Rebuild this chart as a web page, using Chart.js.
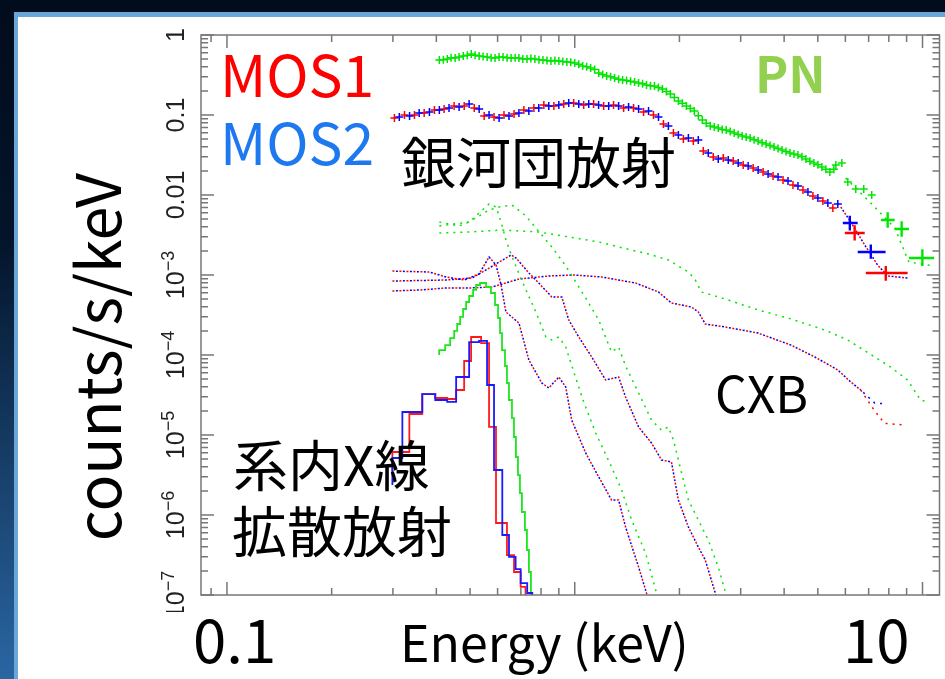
<!DOCTYPE html>
<html>
<head>
<meta charset="utf-8">
<script src="https://cdn.jsdelivr.net/npm/chart.js@4.4.0/dist/chart.umd.min.js"></script>
<style>
  html, body { margin: 0; padding: 0; background: #020f20; }
  #wrap { width: 945px; height: 679px; position: relative; }
</style>
</head>
<body>
<div id="wrap"><canvas id="spec" width="945" height="679"></canvas></div>
<script>
// --- observed spectra (keV, counts/s/keV) ---
const mos1E = [0.303, 0.324, 0.346, 0.369, 0.395, 0.421, 0.450, 0.481, 0.514, 0.549, 0.586, 0.626, 0.669, 0.714, 0.763, 0.815, 0.871, 0.930, 0.993, 1.061, 1.133, 1.211, 1.293, 1.382, 1.476, 1.577, 1.684, 1.799, 1.922, 2.053, 2.193, 2.342, 2.502, 2.673, 2.855, 3.050, 3.258, 3.480, 3.717, 3.971, 4.242, 4.531, 4.840, 5.170, 5.523];
const mos1V = [0.0917, 0.100, 0.100, 0.106, 0.1155, 0.119, 0.130, 0.130, 0.122, 0.0972, 0.0944, 0.100, 0.103, 0.1155, 0.122, 0.133, 0.130, 0.137, 0.141, 0.133, 0.137, 0.130, 0.133, 0.122, 0.122, 0.109, 0.100, 0.0772, 0.0596, 0.0501, 0.0473, 0.0355, 0.0299, 0.0290, 0.0266, 0.0237, 0.0218, 0.0194, 0.0173, 0.0154, 0.0133, 0.01155, 0.00972, 0.00841, 0.00688];
const mos2E = [0.313, 0.335, 0.357, 0.382, 0.408, 0.435, 0.465, 0.497, 0.531, 0.567, 0.606, 0.647, 0.691, 0.738, 0.788, 0.842, 0.900, 0.961, 1.027, 1.097, 1.171, 1.252, 1.337, 1.428, 1.526, 1.630, 1.741, 1.859, 1.986, 2.122, 2.266, 2.421, 2.586, 2.763, 2.951, 3.152, 3.367, 3.597, 3.842, 4.104, 4.384, 4.683, 5.002, 5.343, 5.707];
const mos2V = [0.0944, 0.0972, 0.106, 0.109, 0.1155, 0.122, 0.126, 0.137, 0.119, 0.100, 0.0917, 0.0972, 0.106, 0.112, 0.122, 0.130, 0.133, 0.141, 0.137, 0.137, 0.133, 0.130, 0.130, 0.126, 0.119, 0.112, 0.0944, 0.0729, 0.0562, 0.0516, 0.0487, 0.0335, 0.0282, 0.0273, 0.0251, 0.0230, 0.0205, 0.0183, 0.0168, 0.0150, 0.0130, 0.0109, 0.00917, 0.00794, 0.00772];
const pnE = [0.408, 0.430, 0.453, 0.478, 0.504, 0.531, 0.560, 0.590, 0.622, 0.656, 0.691, 0.729, 0.768, 0.810, 0.854, 0.900, 0.949, 1.000, 1.054, 1.111, 1.172, 1.235, 1.302, 1.373, 1.447, 1.526, 1.608, 1.695, 1.787, 1.884, 1.986, 2.094, 2.207, 2.327, 2.453, 2.586, 2.726, 2.874, 3.030, 3.194, 3.367, 3.549, 3.742, 3.945, 4.158, 4.384, 4.622, 4.872, 5.136, 5.415, 5.633, 5.862, 6.098, 6.427, 6.776, 7.144];
const pnV = [0.487, 0.501, 0.516, 0.546, 0.579, 0.546, 0.531, 0.516, 0.531, 0.516, 0.516, 0.501, 0.501, 0.487, 0.473, 0.473, 0.460, 0.447, 0.410, 0.387, 0.335, 0.307, 0.290, 0.274, 0.265, 0.251, 0.237, 0.231, 0.211, 0.183, 0.150, 0.130, 0.112, 0.0866, 0.0729, 0.0688, 0.0649, 0.0596, 0.0546, 0.0516, 0.0473, 0.0434, 0.0398, 0.0365, 0.0335, 0.0316, 0.0282, 0.0251, 0.0224, 0.0194, 0.0237, 0.0251, 0.0145, 0.0119, 0.0119, 0.0100];
// PN bins lying between the ones above
const pnE2 = [0.419, 0.441, 0.465, 0.491, 0.517, 0.545, 0.575, 0.606, 0.639, 0.674, 0.709, 0.748, 0.789, 0.832, 0.877, 0.924, 0.974, 1.027, 1.082, 1.141, 1.203, 1.268, 1.337, 1.410, 1.486, 1.567, 1.651, 1.740, 1.835, 1.934, 2.039, 2.150, 2.266, 2.389, 2.519, 2.655, 2.799, 2.951, 3.111, 3.279, 3.457, 3.644, 3.842, 4.050, 4.269, 4.501, 4.745, 5.002, 5.273, 5.560];
const pnV2 = [0.49, 0.52, 0.53, 0.56, 0.56, 0.54, 0.52, 0.53, 0.52, 0.52, 0.50, 0.51, 0.49, 0.48, 0.48, 0.465, 0.455, 0.43, 0.40, 0.37, 0.32, 0.30, 0.28, 0.27, 0.258, 0.245, 0.232, 0.221, 0.196, 0.166, 0.14, 0.121, 0.098, 0.079, 0.071, 0.066, 0.062, 0.057, 0.053, 0.049, 0.045, 0.0415, 0.038, 0.035, 0.0325, 0.030, 0.0265, 0.0238, 0.021, 0.021];

// wide high-energy bins: centre, bin edges, value, error range
const mos1WideE = [6.38, 7.84], mos1WideLo = [5.98, 6.87], mos1WideHi = [6.82, 9.06];
const mos1WideV = [0.00335, 0.00106], mos1WideVlo = [0.0027, 0.00085], mos1WideVhi = [0.0042, 0.0013];
const mos2WideE = [6.18, 7.10], mos2WideLo = [5.90, 6.51], mos2WideHi = [6.51, 7.83];
const mos2WideV = [0.00447, 0.00194], mos2WideVlo = [0.0036, 0.0016], mos2WideVhi = [0.0055, 0.0024];
const pnWideE = [7.94, 8.71, 9.99], pnWideLo = [7.59, 8.32, 9.14], pnWideHi = [8.32, 9.14, 10.8];
const pnWideV = [0.00487, 0.00376, 0.00163], pnWideVlo = [0.0039, 0.0030, 0.0013], pnWideVhi = [0.0061, 0.0047, 0.0021];

// --- model components ---
const pnCxbE = [0.408, 0.497, 0.618, 0.788, 0.961, 1.172, 1.337, 1.629, 1.859, 2.122, 2.222, 2.312, 2.421, 2.763, 3.367, 4.105, 5.239, 6.098, 7.287, 8.096, 9.057, 9.868, 10.33];
const pnCxbV = [0.00335, 0.00345, 0.00365, 0.00345, 0.00299, 0.00259, 0.00224, 0.00183, 0.00154, 0.00109, 0.000866, 0.000613, 0.000579, 0.000487, 0.000365, 0.000290, 0.000205, 0.000154, 0.0000944, 0.0000708, 0.0000487, 0.0000274, 0.0000259];
const pnHotE = [0.408, 0.497, 0.567, 0.606, 0.660, 0.724, 0.773, 0.859, 0.942, 1.075, 1.172, 1.276, 1.337, 1.400, 1.526, 1.662, 1.776, 1.859, 1.922, 2.122, 2.266, 2.421, 2.586, 2.726, 2.80];
const pnHotV = [0.0041, 0.0046, 0.00649, 0.00708, 0.0075, 0.00546, 0.00387, 0.00224, 0.0013, 0.000516, 0.000274, 0.000109, 0.000126, 0.0000729, 0.0000335, 0.0000154, 0.0000115, 0.0000126, 0.00000866, 0.00000154, 8.66e-7, 4.87e-7, 2.24e-7, 1.0e-7, 6.5e-8];
const pnCoolE = [0.408, 0.465, 0.497, 0.531, 0.567, 0.594, 0.614, 0.634, 0.656, 0.678, 0.724, 0.773, 0.826, 0.859, 0.900, 0.942, 1.007, 1.061, 1.149, 1.276, 1.364, 1.457, 1.598, 1.718, 1.776];
const pnCoolV = [0.0046, 0.0041, 0.0046, 0.00596, 0.00772, 0.00708, 0.0046, 0.00274, 0.00183, 0.00126, 0.00065, 0.000345, 0.000168, 0.000154, 0.000168, 0.000126, 0.0000516, 0.0000259, 0.0000106, 0.00000398, 0.00000205, 8.66e-7, 3.35e-7, 1.06e-7, 7.3e-8];
const pnTotE = [6.01, 6.73, 7.43, 8.32, 9.14, 10.82];
const pnTotV = [0.0163, 0.0100, 0.00649, 0.00387, 0.00145, 0.0013];

const mosCxbE = [0.299, 0.358, 0.427, 0.497, 0.578, 0.691, 0.842, 0.993, 1.195, 1.496, 1.741, 1.897, 2.164, 2.266, 2.373, 2.708, 3.367, 4.186, 4.903, 5.706, 6.218, 6.641];
const mosCxbV = [0.000631, 0.00065, 0.000688, 0.000688, 0.000708, 0.000891, 0.000972, 0.00100, 0.000944, 0.000794, 0.000613, 0.000447, 0.000398, 0.000345, 0.000244, 0.000224, 0.000188, 0.000133, 0.0000944, 0.000065, 0.000046, 0.0000365];
const mos2CxbTailE = [6.641, 7.287, 7.83], mos2CxbTailV = [0.0000365, 0.0000251, 0.0000245];
const mos1CxbTailE = [6.641, 7.287, 7.78, 8.94], mos1CxbTailV = [0.0000365, 0.0000200, 0.0000140, 0.0000133];
const mosCoolE = [0.299, 0.382, 0.427, 0.481, 0.531, 0.567, 0.594, 0.614, 0.634, 0.691, 0.738, 0.804, 0.842, 0.900, 0.942, 0.980, 1.075, 1.172, 1.276, 1.337, 1.400, 1.526, 1.608, 1.651];
const mosCoolV = [0.00112, 0.00109, 0.000944, 0.000866, 0.00103, 0.00168, 0.00133, 0.00075, 0.000345, 0.000251, 0.0000866, 0.0000447, 0.0000387, 0.0000531, 0.0000398, 0.0000154, 0.00000596, 0.00000299, 0.00000154, 0.00000154, 7.08e-7, 2.24e-7, 1.06e-7, 7.5e-8];
const mosHotE = [0.299, 0.427, 0.507, 0.567, 0.606, 0.656, 0.678, 0.738, 0.788, 0.859, 0.918, 0.961, 1.027, 1.119, 1.227, 1.337, 1.400, 1.526, 1.662, 1.776, 1.897, 1.986, 2.122, 2.266, 2.373, 2.535, 2.586];
const mosHotV = [0.000841, 0.000866, 0.000917, 0.00122, 0.00145, 0.00178, 0.00163, 0.00106, 0.000794, 0.000531, 0.000531, 0.000274, 0.000168, 0.0000944, 0.0000487, 0.0000531, 0.0000299, 0.0000126, 0.00000794, 0.00000487, 0.0000046, 0.00000154, 7.08e-7, 3.98e-7, 2.74e-7, 1.06e-7, 7.5e-8];
const mosTotE = [5.82, 6.218, 6.82, 7.43, 7.94, 9.06];
const mosTotV = [0.00708, 0.0046, 0.00237, 0.00133, 0.000972, 0.000917];

// galactic diffuse emission (binned, left bin edges)
const mos1GdeE = [0.299, 0.3345, 0.3644, 0.3971, 0.4298, 0.456, 0.4808, 0.5035, 0.5379, 0.567, 0.5937, 0.6384, 0.669, 0.699, 0.722, 0.747];
const mos1GdeV = [3.07e-6, 6.13e-6, 1.83e-5, 3.25e-5, 2.9e-5, 2.82e-5, 3.65e-5, 8.41e-5, 1.68e-4, 1.41e-4, 1.26e-5, 7.94e-7, 3.16e-7, 1.94e-7, 1.26e-7, 4.87e-8];
const mos2GdeE = [0.299, 0.3194, 0.3644, 0.3971, 0.4298, 0.456, 0.497, 0.5307, 0.5596, 0.586, 0.619, 0.647, 0.676, 0.699, 0.730, 0.755, 0.788];
const mos2GdeV = [2.37e-6, 5.16e-6, 1.94e-5, 3.25e-5, 2.74e-5, 2.59e-5, 5.31e-5, 1.45e-4, 1.5e-4, 4.22e-5, 3.65e-6, 5.62e-7, 2.99e-7, 2.11e-7, 1.41e-7, 1.06e-7, 4.87e-8];
const pnGdeE = [0.4076, 0.4241, 0.4383, 0.4501, 0.4591, 0.4683, 0.4776, 0.4872, 0.497, 0.5102, 0.5204, 0.5344, 0.5559, 0.5743, 0.5899, 0.6017, 0.6097, 0.6178, 0.6301, 0.6384, 0.6469, 0.6599, 0.6687, 0.6775, 0.6866, 0.6957, 0.7049, 0.719, 0.7286, 0.7383, 0.7481, 0.7581];
const pnGdeV = [1.0e-4, 1.15e-4, 1.33e-4, 1.63e-4, 2.0e-4, 2.44e-4, 2.99e-4, 3.76e-4, 4.6e-4, 5.46e-4, 6.5e-4, 7.5e-4, 7.94e-4, 7.08e-4, 5.96e-4, 4.22e-4, 2.9e-4, 1.88e-4, 1.15e-4, 7.29e-5, 4.47e-5, 2.74e-5, 1.63e-5, 9.44e-6, 5.31e-6, 3.16e-6, 1.88e-6, 1.09e-6, 6.49e-7, 3.65e-7, 1.94e-7, 8.66e-8];

// axis tick labels
const yTickVals = [1, 0.1, 0.01, 1e-3, 1e-4, 1e-5, 1e-6, 1e-7];
const yTickText = ['1', '0.1', '0.01', '10|−3', '10|−4', '10|−5', '10|−6', '10|−7'];

const RED = '#ff0000', BLUE = '#0000ff', GREEN = '#00e600';

function pts(es, vs) {
  return es.map((e, i) => ({ x: e, y: vs[i] }));
}

// wide bins as gapped segments: horizontal bar then vertical bar for each bin
function hBars(lo, hi, v) {
  const out = [];
  lo.forEach((l, i) => { out.push({ x: l, y: v[i] }, { x: hi[i], y: v[i] }, { x: hi[i], y: NaN }); });
  return out;
}
function vBars(e, vlo, vhi) {
  const out = [];
  e.forEach((x, i) => { out.push({ x: x, y: vlo[i] }, { x: x, y: vhi[i] }, { x: x * 1.001, y: NaN }); });
  return out;
}

function crosses(label, data, color, order) {
  return { label, data, showLine: false, pointStyle: 'cross', pointRadius: 4,
    pointBorderWidth: 1.5, pointBorderColor: color, borderColor: color, order };
}
function bars(label, data, color, order) {
  return { label, data, borderColor: color, borderWidth: 2.4, pointRadius: 0, spanGaps: false, order };
}
function dotted(label, es, vs, color, offset) {
  return { label, data: pts(es, vs), borderColor: color, borderWidth: 1.5, borderDash: [2, 5],
    borderDashOffset: offset || 0, pointRadius: 0, order: 6 };
}
function steps(label, es, vs, color) {
  return { label, data: pts(es, vs), borderColor: color, borderWidth: 1.8, stepped: 'after',
    pointRadius: 0, order: 4 };
}

const slideBg = {
  id: 'slideBg',
  beforeDraw(chart) {
    const ctx = chart.ctx, W = chart.width, H = chart.height;
    ctx.save();
    const g = ctx.createLinearGradient(0, 0, 0, H);
    g.addColorStop(0, '#010c1c');
    g.addColorStop(0.35, '#03142a');
    g.addColorStop(1, '#2a66a3');
    ctx.fillStyle = g;
    ctx.fillRect(0, 0, W, H);
    ctx.fillStyle = '#6aa6d8';
    ctx.fillRect(14, 12, W, H);
    ctx.fillStyle = '#ffffff';
    ctx.fillRect(18, 17, W, H);
    ctx.restore();
  }
};

// frame with inward log ticks on all four sides
const frameTicks = {
  id: 'frameTicks',
  afterDatasetsDraw(chart) {
    const ctx = chart.ctx, a = chart.chartArea;
    const xs = chart.scales.x, ys = chart.scales.y;
    ctx.save();
    ctx.strokeStyle = '#777';
    ctx.lineWidth = 1.5;
    ctx.strokeRect(a.left, a.top, a.right - a.left, a.bottom - a.top);
    ctx.beginPath();
    for (let d = -2; d <= 1; d++) {
      for (let k = 1; k <= 9; k++) {
        const e = k * Math.pow(10, d);
        if (e < xs.min || e > xs.max) continue;
        const px = xs.getPixelForValue(e);
        const len = k === 1 ? 13 : 7;
        ctx.moveTo(px, a.bottom); ctx.lineTo(px, a.bottom - len);
        ctx.moveTo(px, a.top); ctx.lineTo(px, a.top + len);
      }
    }
    for (let d = -7; d <= 0; d++) {
      for (let k = 1; k <= 9; k++) {
        const v = k * Math.pow(10, d);
        if (v < ys.min || v > ys.max * 1.0001) continue;
        const py = ys.getPixelForValue(v);
        const len = k === 1 ? 13 : 7;
        ctx.moveTo(a.left, py); ctx.lineTo(a.left + len, py);
        ctx.moveTo(a.right, py); ctx.lineTo(a.right - len, py);
      }
    }
    ctx.stroke();

    // rotated y tick labels
    ctx.beginPath();
    ctx.rect(140, 20, 60, 592);
    ctx.clip();
    ctx.fillStyle = '#222';
    yTickVals.forEach((v, i) => {
      const py = ys.getPixelForValue(v);
      const parts = yTickText[i].split('|');
      ctx.save();
      ctx.translate(184, py);
      ctx.rotate(-Math.PI / 2);
      ctx.textBaseline = 'alphabetic';
      ctx.textAlign = 'left';
      ctx.font = '25px "Liberation Sans", Arial, sans-serif';
      const wb = ctx.measureText(parts[0]).width;
      let we = 0;
      if (parts[1]) {
        ctx.font = '18px "Liberation Sans", Arial, sans-serif';
        we = ctx.measureText(parts[1]).width;
      }
      const x0 = -(wb + we) / 2;
      ctx.font = '25px "Liberation Sans", Arial, sans-serif';
      ctx.fillText(parts[0], x0, 0);
      if (parts[1]) {
        ctx.font = '18px "Liberation Sans", Arial, sans-serif';
        ctx.fillText(parts[1], x0 + wb, -10);
      }
      ctx.restore();
    });
    ctx.restore();
  }
};

const labels = {
  id: 'labels',
  afterDraw(chart) {
    const ctx = chart.ctx;
    const jp = '"Noto Sans CJK JP", "Noto Sans", sans-serif';
    ctx.save();
    ctx.textBaseline = 'alphabetic';
    ctx.textAlign = 'left';
    ctx.font = '57px ' + jp;
    ctx.fillStyle = RED;
    ctx.fillText('MOS1', 220, 97);
    ctx.fillStyle = '#1e78f0';
    ctx.fillText('MOS2', 220, 165);
    ctx.font = 'bold 50px ' + jp;
    ctx.fillStyle = '#92d050';
    ctx.fillText('PN', 755, 93);
    ctx.fillStyle = '#000';
    ctx.font = '55px ' + jp;
    ctx.fillText('銀河団放射', 401, 183);
    ctx.fillText('系内X線', 233, 486);
    ctx.fillText('拡散放射', 232, 552);
    ctx.font = '50px ' + jp;
    ctx.fillText('CXB', 715, 413);
    ctx.font = '60px ' + jp;
    ctx.fillText('0.1', 193, 663);
    ctx.fillText('10', 843, 663);
    ctx.font = '50px ' + jp;
    ctx.fillText('Energy (keV)', 400, 662);
    ctx.save();
    ctx.translate(121, 357);
    ctx.rotate(-Math.PI / 2);
    ctx.textAlign = 'center';
    ctx.font = '61px ' + jp;
    ctx.fillText('counts/s/keV', 0, 0);
    ctx.restore();
    ctx.restore();
  }
};

new Chart(document.getElementById('spec'), {
  type: 'line',
  data: {
    datasets: [
      crosses('MOS2', pts(mos2E, mos2V), BLUE, 0),
      crosses('MOS1', pts(mos1E, mos1V), RED, 1),
      crosses('PN', pts(pnE, pnV).concat(pts(pnE2, pnV2)), GREEN, 1),
      bars('MOS2 wide', hBars(mos2WideLo, mos2WideHi, mos2WideV), BLUE, 0),
      bars('MOS2 wide err', vBars(mos2WideE, mos2WideVlo, mos2WideVhi), BLUE, 0),
      bars('MOS1 wide', hBars(mos1WideLo, mos1WideHi, mos1WideV), RED, 1),
      bars('MOS1 wide err', vBars(mos1WideE, mos1WideVlo, mos1WideVhi), RED, 1),
      bars('PN wide', hBars(pnWideLo, pnWideHi, pnWideV), GREEN, 1),
      bars('PN wide err', vBars(pnWideE, pnWideVlo, pnWideVhi), GREEN, 1),
      steps('MOS2 GDE', mos2GdeE, mos2GdeV, '#1a1aff'),
      steps('MOS1 GDE', mos1GdeE, mos1GdeV, '#ff1a1a'),
      steps('PN GDE', pnGdeE, pnGdeV, '#1ee61e'),
      dotted('PN CXB', pnCxbE, pnCxbV, GREEN),
      dotted('PN hot', pnHotE, pnHotV, GREEN),
      dotted('PN cool', pnCoolE, pnCoolV, GREEN),
      dotted('PN total', pnTotE, pnTotV, GREEN),
      dotted('MOS1 CXB', mosCxbE, mosCxbV, RED),
      dotted('MOS2 CXB', mosCxbE, mosCxbV, BLUE, 3.5),
      dotted('MOS1 CXB tail', mos1CxbTailE, mos1CxbTailV, RED),
      dotted('MOS2 CXB tail', mos2CxbTailE, mos2CxbTailV, BLUE, 3.5),
      dotted('MOS1 cool', mosCoolE, mosCoolV, RED),
      dotted('MOS2 cool', mosCoolE, mosCoolV, BLUE, 3.5),
      dotted('MOS1 hot', mosHotE, mosHotV, RED),
      dotted('MOS2 hot', mosHotE, mosHotV, BLUE, 3.5),
      dotted('MOS1 total', mosTotE, mosTotV, RED),
      dotted('MOS2 total', mosTotE, mosTotV, BLUE, 3.5)
    ]
  },
  options: {
    responsive: false,
    devicePixelRatio: 1,
    animation: false,
    layout: { padding: { left: 201, right: 3, top: 35, bottom: 84 } },
    plugins: { legend: { display: false }, tooltip: { enabled: false } },
    scales: {
      x: { type: 'logarithmic', min: 0.0842, max: 11.19, display: false },
      y: { type: 'logarithmic', min: 1e-7, max: 1, display: false }
    }
  },
  plugins: [slideBg, frameTicks, labels]
});
</script>
</body>
</html>
